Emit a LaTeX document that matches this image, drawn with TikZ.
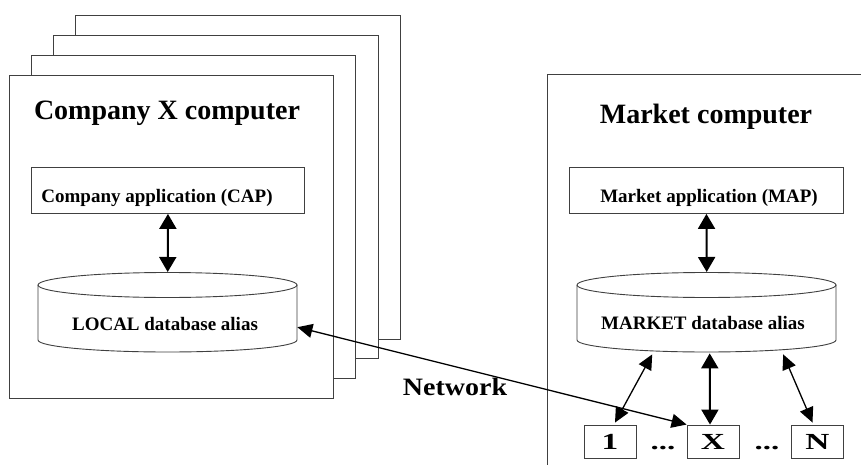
\documentclass[tikz,border=0pt]{standalone}
\usepackage{fontspec}
\setmainfont{Liberation Serif}
\usetikzlibrary{arrows.meta,calc}
\begin{document}
\begin{tikzpicture}[x=1pt,y=-1pt,
  frame/.style={draw=black!75, line width=0.9pt, fill=white, inner sep=0pt, anchor=north west},
  dbline/.style={draw=black!75, line width=0.9pt},
  bigarrow/.style={{Triangle[length=15pt,width=17pt]}-{Triangle[length=15pt,width=17pt]}, line width=2pt},
  thinarrow/.style={{Triangle[length=15pt,width=14pt]}-{Triangle[length=15pt,width=14pt]}, line width=1.3pt},
  titletext/.style={font=\bfseries\fontsize{28}{30}\selectfont, anchor=base, inner sep=0pt},
  labeltext/.style={font=\bfseries\fontsize{19}{21}\selectfont, anchor=base, inner sep=0pt},
  smallbox/.style={draw=black!75, line width=0.9pt, minimum width=52pt, minimum height=33pt, inner sep=0pt, font=\bfseries\fontsize{23}{25}\selectfont},
  dotstext/.style={font=\bfseries\fontsize{22}{24}\selectfont, anchor=base, inner sep=0pt},
]
\useasboundingbox (0,0) rectangle (861,465);
% stacked company computers
\node[frame, minimum width=325pt, minimum height=324pt] (s4) at (75,15) {};
\node[frame, minimum width=325pt, minimum height=323pt] (s3) at (53,35) {};
\node[frame, minimum width=324pt, minimum height=323pt] (s2) at (31,55) {};
\node[frame, minimum width=324pt, minimum height=323pt] (s1) at (9,75) {};
% market computer (extends past the picture edge)
\node[frame, minimum width=340pt, minimum height=420pt] (market) at (547,74) {};

% titles
\node[titletext] (ctitle) at (167,120) {Company X computer};
\node[titletext] (mtitle) at (706,124) {Market computer};

% application boxes
\node[frame, minimum width=273pt, minimum height=46pt] (cap) at (31,167) {};
\node[labeltext] (captext) at (157,202) {Company application (CAP)};
\node[frame, minimum width=274pt, minimum height=46pt] (map) at (569,167) {};
\node[labeltext] (maptext) at (709,202) {Market application (MAP)};

% database cylinders
\node[minimum width=259pt, minimum height=80pt, inner sep=0pt, anchor=north west] (local) at (38,272) {};
\draw[dbline, fill=white] (38,285) -- (38,340) arc[start angle=180, end angle=360, x radius=129.5pt, y radius=12pt] -- (297,285);
\draw[dbline] (167.5,285) ellipse [x radius=129.5pt, y radius=12.5pt];
\node[labeltext] (localtext) at (165,330) {LOCAL database alias};

\node[minimum width=259pt, minimum height=80pt, inner sep=0pt, anchor=north west] (mdb) at (577,272) {};
\draw[dbline, fill=white] (577,285) -- (577,340) arc[start angle=180, end angle=360, x radius=129.5pt, y radius=12pt] -- (836,285);
\draw[dbline] (706.5,285) ellipse [x radius=129.5pt, y radius=12.5pt];
\node[labeltext] (mdbtext) at (703,329) {MARKET database alias};

% small boxes
\node[smallbox] (one) at (610,441.5) {\scalebox{1.45}[1]{1}};
\node[smallbox] (ex) at (713,441.5) {\scalebox{1.45}[1]{X}};
\node[smallbox] (en) at (817.5,441.5) {\scalebox{1.45}[1]{N}};
\node[dotstext] (dots1) at (663,449) {\scalebox{1.5}[1]{...}};
\node[dotstext] (dots2) at (767,449) {\scalebox{1.5}[1]{...}};

% arrows
\draw[bigarrow] (cap.south) -- (local.north);
\draw[bigarrow] (map.south) -- (mdb.north);
\draw[thinarrow] ($(mdb.south)+(-54.5,2)$) -- ($(one.north)+(5,-2)$);
\draw[bigarrow] ($(mdb.south)+(3,1)$) -- ($(ex.north)+(-3,0)$);
\draw[thinarrow] ($(mdb.south)+(76.5,2)$) -- ($(en.north)+(-5,-2)$);
\draw[thinarrow] (ex.north west) -- ($(local.east)+(0,15)$);

% network label
\node[titletext, font=\bfseries\fontsize{25}{27}\selectfont] (net) at (455,395) {\scalebox{1.12}[1]{Network}};
\end{tikzpicture}
\end{document}
